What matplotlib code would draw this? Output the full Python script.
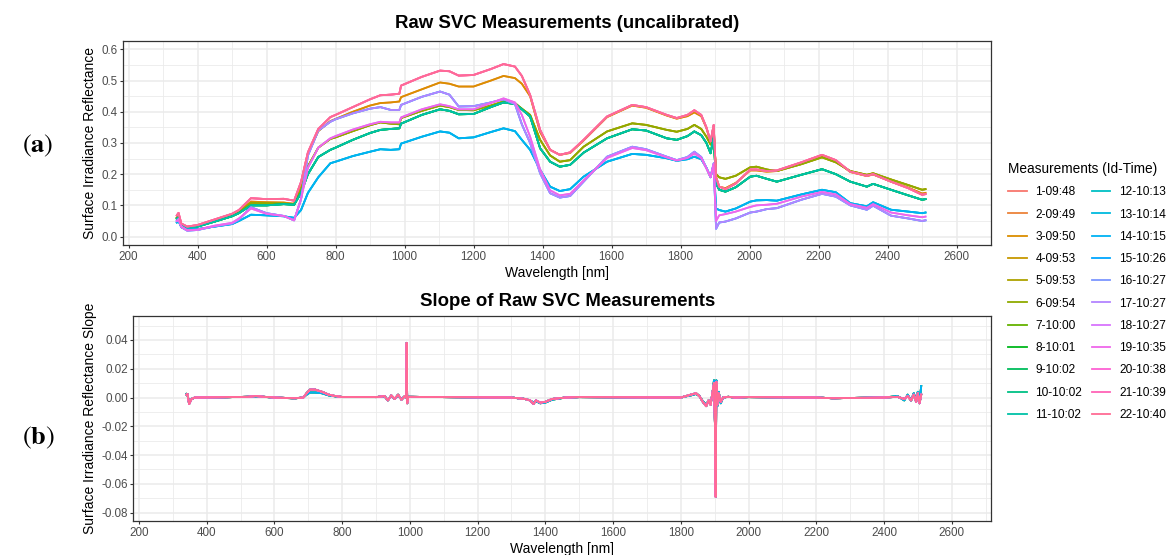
import numpy as np
import matplotlib
matplotlib.use('Agg')
import matplotlib.pyplot as plt
from matplotlib.ticker import MultipleLocator, FormatStrFormatter

plt.rcParams['font.family'] = ['Liberation Sans', 'DejaVu Sans']
plt.rcParams['axes.unicode_minus'] = False
plt.rcParams['mathtext.fontset'] = 'stix'

# ---------------- reflectance spectra (groups of near-identical measurements) ----------------
wavelength = [340, 345, 353, 370, 400, 450, 500, 520, 555, 600,
              650, 680, 700, 720, 750, 785, 800, 850, 900, 930,
              960, 985, 990, 1050, 1103, 1130, 1157, 1200, 1250, 1287,
              1320, 1340, 1364, 1393, 1422, 1450, 1480, 1519, 1587, 1660,
              1700, 1760, 1789, 1820, 1840, 1860, 1875, 1887, 1896, 1903,
              1912, 1930, 1960, 2002, 2020, 2050, 2079, 2150, 2210, 2250,
              2292, 2340, 2358, 2410, 2460, 2500, 2510]

refl_pink = [0.068, 0.076, 0.042, 0.032, 0.037, 0.055, 0.073, 0.085, 0.123, 0.120,
             0.121, 0.115, 0.175, 0.270, 0.345, 0.383, 0.390, 0.415, 0.440, 0.453,
             0.455, 0.458, 0.484, 0.512, 0.532, 0.530, 0.516, 0.518, 0.537, 0.553,
             0.545, 0.515, 0.454, 0.342, 0.278, 0.262, 0.270, 0.310, 0.385, 0.422,
             0.415, 0.390, 0.380, 0.390, 0.405, 0.390, 0.350, 0.305, 0.358, 0.190,
             0.160, 0.152, 0.170, 0.215, 0.215, 0.210, 0.212, 0.238, 0.262, 0.245,
             0.208, 0.195, 0.200, 0.176, 0.155, 0.134, 0.136]

refl_orange = [0.062, 0.070, 0.040, 0.031, 0.035, 0.053, 0.070, 0.080, 0.112, 0.110,
               0.109, 0.105, 0.170, 0.265, 0.338, 0.370, 0.377, 0.400, 0.420, 0.428,
               0.430, 0.433, 0.447, 0.472, 0.494, 0.490, 0.481, 0.481, 0.500, 0.515,
               0.508, 0.490, 0.450, 0.335, 0.278, 0.262, 0.268, 0.308, 0.383, 0.420,
               0.413, 0.388, 0.378, 0.386, 0.398, 0.386, 0.348, 0.303, 0.355, 0.190,
               0.160, 0.155, 0.172, 0.212, 0.212, 0.208, 0.210, 0.235, 0.258, 0.242,
               0.207, 0.194, 0.199, 0.176, 0.157, 0.138, 0.140]

refl_olive = [0.060, 0.066, 0.038, 0.028, 0.033, 0.050, 0.068, 0.078, 0.108, 0.107,
              0.106, 0.103, 0.150, 0.225, 0.285, 0.313, 0.318, 0.338, 0.357, 0.366,
              0.362, 0.360, 0.380, 0.403, 0.420, 0.415, 0.406, 0.405, 0.420, 0.433,
              0.428, 0.410, 0.390, 0.310, 0.260, 0.240, 0.245, 0.288, 0.337, 0.363,
              0.358, 0.342, 0.336, 0.345, 0.358, 0.345, 0.320, 0.295, 0.340, 0.200,
              0.190, 0.185, 0.195, 0.222, 0.224, 0.215, 0.210, 0.232, 0.254, 0.238,
              0.210, 0.198, 0.203, 0.183, 0.165, 0.150, 0.152]

refl_green = [0.057, 0.062, 0.036, 0.027, 0.032, 0.048, 0.065, 0.075, 0.100, 0.100,
              0.104, 0.102, 0.140, 0.200, 0.255, 0.278, 0.285, 0.310, 0.332, 0.342,
              0.345, 0.347, 0.362, 0.390, 0.408, 0.403, 0.392, 0.393, 0.415, 0.430,
              0.425, 0.408, 0.385, 0.283, 0.240, 0.224, 0.230, 0.269, 0.315, 0.344,
              0.340, 0.315, 0.310, 0.322, 0.337, 0.325, 0.300, 0.267, 0.320, 0.170,
              0.150, 0.144, 0.158, 0.192, 0.195, 0.185, 0.176, 0.198, 0.216, 0.200,
              0.176, 0.160, 0.169, 0.150, 0.132, 0.118, 0.120]

refl_blue = [0.045, 0.050, 0.030, 0.022, 0.024, 0.032, 0.040, 0.050, 0.070, 0.068,
             0.065, 0.060, 0.085, 0.140, 0.190, 0.235, 0.240, 0.258, 0.272, 0.280,
             0.278, 0.280, 0.298, 0.320, 0.337, 0.333, 0.315, 0.318, 0.335, 0.347,
             0.338, 0.310, 0.278, 0.214, 0.160, 0.146, 0.152, 0.192, 0.240, 0.265,
             0.262, 0.251, 0.243, 0.248, 0.256, 0.248, 0.220, 0.190, 0.230, 0.090,
             0.085, 0.080, 0.090, 0.112, 0.116, 0.117, 0.115, 0.135, 0.150, 0.142,
             0.107, 0.097, 0.110, 0.086, 0.080, 0.075, 0.077]

refl_purple = [0.050, 0.056, 0.030, 0.019, 0.021, 0.033, 0.042, 0.055, 0.094, 0.075,
               0.066, 0.052, 0.120, 0.260, 0.340, 0.368, 0.376, 0.395, 0.410, 0.415,
               0.406, 0.406, 0.422, 0.448, 0.465, 0.455, 0.417, 0.418, 0.430, 0.440,
               0.425, 0.360, 0.300, 0.203, 0.139, 0.125, 0.130, 0.176, 0.256, 0.288,
               0.280, 0.256, 0.245, 0.255, 0.272, 0.255, 0.220, 0.192, 0.235, 0.025,
               0.045, 0.048, 0.058, 0.077, 0.080, 0.088, 0.091, 0.118, 0.137, 0.128,
               0.100, 0.086, 0.099, 0.067, 0.058, 0.050, 0.052]

refl_magenta = [0.050, 0.055, 0.032, 0.020, 0.022, 0.035, 0.044, 0.058, 0.090, 0.073,
                0.066, 0.052, 0.120, 0.220, 0.285, 0.315, 0.322, 0.343, 0.360, 0.368,
                0.366, 0.366, 0.382, 0.408, 0.424, 0.418, 0.408, 0.408, 0.428, 0.443,
                0.430, 0.390, 0.320, 0.215, 0.148, 0.132, 0.137, 0.180, 0.252, 0.284,
                0.277, 0.254, 0.244, 0.252, 0.266, 0.252, 0.218, 0.190, 0.232, 0.050,
                0.068, 0.072, 0.080, 0.095, 0.100, 0.102, 0.105, 0.128, 0.143, 0.135,
                0.104, 0.092, 0.104, 0.077, 0.068, 0.062, 0.064]

# ---------------- first derivative (slope) of the spectra ----------------
slope_wavelength = [340, 343, 348, 355, 365,
                    450, 520, 545, 570, 600,
                    660, 685, 695, 705, 720,
                    740, 760, 780, 800, 900,
                    925, 935, 945, 955, 965,
                    975, 985, 989, 990.5, 992,
                    995, 1100, 1300, 1340, 1355,
                    1365, 1372, 1385, 1400, 1420,
                    1460, 1500, 1800, 1815, 1830,
                    1845, 1855, 1865, 1875, 1882,
                    1888, 1894, 1898, 1901, 1903,
                    1905, 1908, 1912, 1918, 1925,
                    1940, 1960, 2000, 2200, 2250,
                    2300, 2400, 2440, 2460, 2470,
                    2480, 2488, 2495, 2500, 2505,
                    2510]

slope_main = [0.002, 0.0025, -0.0045, -0.001, 0.0,
              0.0002, 0.0005, 0.001, 0.0005, 0.0,
              -0.0005, 0.0, 0.003, 0.0055, 0.0055,
              0.004, 0.002, 0.001, 0.0004, 0.0003,
              0.001, -0.002, 0.0015, -0.001, 0.002,
              -0.0015, 0.001, 0.0, 0.038, -0.004,
              0.0005, 0.0003, 0.0, -0.001, -0.002,
              -0.0045, -0.002, -0.0035, -0.003, -0.001,
              0.0, 0.0003, 0.0, 0.001, 0.002,
              0.003, 0.001, -0.003, -0.006, -0.002,
              -0.005, 0.004, 0.010, -0.020, -0.069,
              0.011, -0.005, 0.003, -0.003, 0.0,
              0.0005, 0.0, 0.0003, 0.0, -0.0005,
              -0.0003, 0.0, 0.0005, -0.001, 0.001,
              -0.002, 0.002, -0.003, 0.003, -0.004,
              0.002]

slope_alt = [0.0025, 0.002, -0.004, -0.001, 0.0,
             0.0002, 0.0005, 0.0008, 0.0004, 0.0,
             -0.0006, 0.0, 0.002, 0.0035, 0.0035,
             0.003, 0.0015, 0.0008, 0.0003, 0.0003,
             0.0008, -0.0018, 0.0012, -0.0008, 0.0015,
             -0.001, 0.0008, 0.0, 0.025, -0.003,
             0.0005, 0.0003, 0.0, -0.001, -0.002,
             -0.0035, -0.0025, -0.004, -0.0035, -0.0015,
             0.0, 0.0003, 0.0, 0.0008, 0.0015,
             0.0025, 0.001, -0.0025, -0.005, -0.002,
             -0.004, 0.003, 0.012, -0.010, -0.045,
             0.012, -0.006, 0.004, -0.004, 0.0,
             0.0005, 0.0, 0.0003, 0.0, -0.0005,
             -0.0003, 0.0, 0.001, -0.002, 0.002,
             -0.002, 0.003, -0.002, 0.004, -0.003,
             0.008]

# ---------------- measurements: label and which spectrum it follows ----------------
measurement_labels = ['1-09:48', '2-09:49', '3-09:50', '4-09:53', '5-09:53', '6-09:54',
                      '7-10:00', '8-10:01', '9-10:02', '10-10:02', '11-10:02', '12-10:13',
                      '13-10:14', '14-10:15', '15-10:26', '16-10:27', '17-10:27', '18-10:27',
                      '19-10:35', '20-10:38', '21-10:39', '22-10:40']
measurement_group = ['pink', 'orange', 'orange', 'olive', 'olive', 'olive',
                     'green', 'green', 'green', 'green', 'green', 'blue',
                     'blue', 'blue', 'purple', 'purple', 'purple', 'magenta',
                     'magenta', 'pink', 'pink', 'pink']

spectra = {'pink': refl_pink, 'orange': refl_orange, 'olive': refl_olive,
           'green': refl_green, 'blue': refl_blue, 'purple': refl_purple,
           'magenta': refl_magenta}
slopes = {'pink': slope_main, 'orange': slope_main, 'olive': slope_alt,
          'green': slope_main, 'blue': slope_alt, 'purple': slope_main,
          'magenta': slope_main}


def hue_palette(n, l=65.0, c=100.0, h0=15.0):
    """ggplot2-style evenly spaced HCL hues converted to sRGB."""
    hues = np.linspace(h0, h0 + 360, n + 1)[:-1]
    xn, yn, zn = 95.047, 100.0, 108.883
    un = 4 * xn / (xn + 15 * yn + 3 * zn)
    vn = 9 * yn / (xn + 15 * yn + 3 * zn)
    y = yn * ((l + 16) / 116) ** 3
    m = np.array([[3.2404542, -1.5371385, -0.4985314],
                  [-0.9692660, 1.8760108, 0.0415560],
                  [0.0556434, -0.2040259, 1.0572252]])
    cols = []
    for h in hues:
        u = c * np.cos(np.radians(h))
        v = c * np.sin(np.radians(h))
        up = u / (13 * l) + un
        vp = v / (13 * l) + vn
        x = 9 * y * up / (4 * vp)
        z = y * (12 - 3 * up - 20 * vp) / (4 * vp)
        rgb = m @ (np.array([x, y, z]) / 100)
        rgb = np.where(rgb <= 0.0031308, 12.92 * rgb, 1.055 * np.abs(rgb) ** (1 / 2.4) - 0.055)
        cols.append(tuple(np.clip(rgb, 0, 1)))
    return cols


colors = hue_palette(len(measurement_labels))

fig = plt.figure(figsize=(11.69, 5.55), dpi=100)
ax1 = fig.add_axes([0.1055, 0.5586, 0.7423, 0.3681])
ax2 = fig.add_axes([0.1140, 0.0613, 0.7337, 0.3694])


def style_axes(ax, ylabel, ymajor, yminor, yfmt):
    for s in ax.spines.values():
        s.set_color('#333333')
        s.set_linewidth(0.9)
    ax.xaxis.set_major_locator(MultipleLocator(200))
    ax.xaxis.set_minor_locator(MultipleLocator(100))
    ax.yaxis.set_major_locator(MultipleLocator(ymajor))
    ax.yaxis.set_minor_locator(MultipleLocator(yminor))
    ax.yaxis.set_major_formatter(FormatStrFormatter(yfmt))
    ax.grid(which='major', color='#EBEBEB', lw=1.1)
    ax.grid(which='minor', color='#EBEBEB', lw=0.6)
    ax.set_axisbelow(True)
    ax.tick_params(which='major', length=2.5, width=0.8, color='#333333',
                   labelsize=8.4, labelcolor='#4D4D4D', pad=1.5)
    ax.tick_params(which='minor', length=0)
    ax.set_xlabel('Wavelength [nm]', fontsize=10, labelpad=2.5)
    ax.set_ylabel(ylabel, fontsize=10, labelpad=3)


handles = []
for lab, grp, col in zip(measurement_labels, measurement_group, colors):
    h, = ax1.plot(wavelength, spectra[grp], color=col, lw=1.3, label=lab)
    ax2.plot(slope_wavelength, slopes[grp], color=col, lw=1.3)
    handles.append(h)

ax1.set_xlim(185, 2700)
ax1.set_ylim(-0.027, 0.628)
ax2.set_xlim(183, 2716)
ax2.set_ylim(-0.0858, 0.0567)
style_axes(ax1, 'Surface Irradiance Reflectance', 0.1, 0.05, '%.1f')
style_axes(ax2, 'Surface Irradiance Reflectance Slope', 0.02, 0.01, '%.2f')

fig.text(567 / 1169, 1 - 24 / 555, 'Raw SVC Measurements (uncalibrated)',
         ha='center', va='center', fontsize=13.4, fontweight='bold')
fig.text(568 / 1169, 1 - 301 / 555, 'Slope of Raw SVC Measurements',
         ha='center', va='center', fontsize=13.4, fontweight='bold')

fig.text(38 / 1169, 1 - 146 / 555, r'($\mathbf{a}$)', family='STIXGeneral',
         ha='center', va='center', fontsize=19)
fig.text(38 / 1169, 1 - 438 / 555, r'($\mathbf{b}$)', family='STIXGeneral',
         ha='center', va='center', fontsize=19)

fig.legend(handles, measurement_labels, ncol=2, loc='upper left',
           bbox_to_anchor=(1008 / 1169, 1 - 162 / 555), frameon=False,
           fontsize=8.6, title='Measurements (Id-Time)', title_fontsize=9.8,
           alignment='left', handlelength=1.55, handletextpad=0.75,
           labelspacing=0.86, columnspacing=0.8, borderpad=0, borderaxespad=0)

fig.savefig('out.png', dpi=100)
